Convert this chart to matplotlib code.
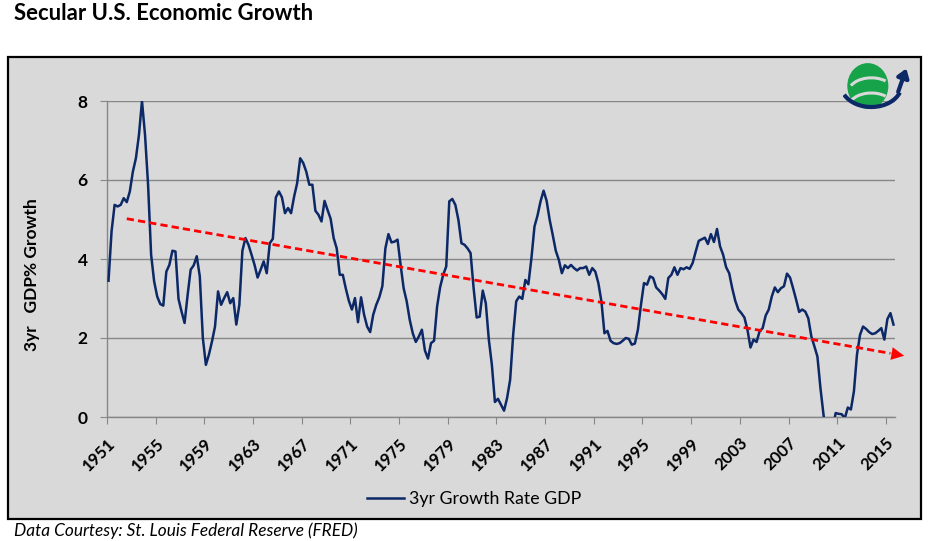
import matplotlib
matplotlib.use('Agg')
import matplotlib.pyplot as plt
from matplotlib.patches import Rectangle, Arc, Ellipse
import numpy as np

plt.rcParams['font.family'] = ['Lato', 'DejaVu Sans']

# 3yr growth rate of GDP, quarterly from 1951Q1
growth = [
    3.45, 4.70, 5.37, 5.33, 5.37, 5.54, 5.44, 5.71, 6.21, 6.55, 7.14, 8.00,
    7.14, 5.88, 4.11, 3.43, 3.05, 2.86, 2.82, 3.68, 3.85, 4.21, 4.19, 2.99,
    2.67, 2.38, 3.09, 3.73, 3.84, 4.07, 3.56, 2.00, 1.32, 1.58, 1.91, 2.29,
    3.18, 2.84, 3.01, 3.16, 2.88, 3.01, 2.34, 2.84, 4.21, 4.53, 4.36, 4.11,
    3.85, 3.53, 3.73, 3.94, 3.64, 4.40, 4.51, 5.56, 5.71, 5.56, 5.16, 5.29,
    5.16, 5.58, 5.92, 6.55, 6.43, 6.21, 5.88, 5.88, 5.22, 5.12, 4.95, 5.47,
    5.24, 5.02, 4.53, 4.27, 3.60, 3.60, 3.25, 2.94, 2.72, 3.01, 2.40, 3.03,
    2.59, 2.29, 2.15, 2.59, 2.84, 3.03, 3.31, 4.27, 4.63, 4.42, 4.44, 4.49,
    3.85, 3.26, 2.93, 2.46, 2.12, 1.90, 2.04, 2.21, 1.68, 1.48, 1.87, 1.93,
    2.80, 3.29, 3.60, 3.81, 5.46, 5.52, 5.37, 4.99, 4.40, 4.36, 4.27, 4.15,
    3.26, 2.52, 2.54, 3.20, 2.88, 1.96, 1.32, 0.38, 0.46, 0.31, 0.16, 0.48,
    0.94, 2.08, 2.93, 3.05, 2.99, 3.47, 3.36, 4.02, 4.82, 5.10, 5.46, 5.73,
    5.47, 4.99, 4.61, 4.21, 3.98, 3.64, 3.84, 3.77, 3.85, 3.77, 3.71, 3.77,
    3.77, 3.81, 3.60, 3.77, 3.68, 3.39, 2.93, 2.12, 2.18, 1.93, 1.87, 1.85,
    1.87, 1.93, 2.00, 1.98, 1.83, 1.86, 2.21, 2.84, 3.39, 3.35, 3.56, 3.52,
    3.28, 3.20, 3.11, 2.99, 3.52, 3.60, 3.79, 3.60, 3.77, 3.74, 3.79, 3.75,
    3.90, 4.19, 4.46, 4.50, 4.54, 4.38, 4.63, 4.43, 4.76, 4.32, 4.11, 3.79,
    3.64, 3.26, 2.94, 2.72, 2.63, 2.52, 2.21, 1.76, 1.96, 1.90, 2.17, 2.25,
    2.57, 2.72, 3.05, 3.28, 3.16, 3.26, 3.31, 3.63, 3.53, 3.26, 2.97, 2.66,
    2.72, 2.67, 2.50, 2.04, 1.79, 1.53, 0.73, 0.06, -0.50, -0.60, -0.30, 0.10,
    0.08, 0.07, -0.03, 0.24, 0.19, 0.65, 1.58, 2.08, 2.29, 2.23, 2.15, 2.10,
    2.12, 2.18, 2.25, 1.96, 2.48, 2.63, 2.34,
]
tick_years = [str(y) for y in range(1951, 2016, 4)]
y_ticks = [0, 2, 4, 6, 8]
# hand-drawn trend arrow (quarters since 1951Q1, growth %)
trend_x = [6.5, 262.0]
trend_y = [5.02, 1.55]

W, H = 936, 541
fig = plt.figure(figsize=(W / 100, H / 100), dpi=100)
fig.patch.set_facecolor('white')

# grey chart area with black frame
fig.patches.append(Rectangle((8 / W, 1 - 519 / H), (921 - 8) / W, (519 - 57) / H,
                             transform=fig.transFigure, facecolor='#d9d9d9',
                             edgecolor='black', lw=1.6, zorder=-10))

grid_c = '#878787'
ax = fig.add_axes([107 / W, 1 - 417 / H, (895 - 107) / W, (417 - 101) / H])
ax.set_facecolor('#d9d9d9')

n = len(growth)
x = np.arange(n) + 0.5
ax.plot(x, growth, color='#0c2866', lw=1.8, label='3yr Growth Rate GDP', zorder=3)

ax.set_xlim(0, n)
ax.set_ylim(0, 8)
ax.set_yticks(y_ticks)
ax.set_yticklabels([str(v) for v in y_ticks], fontsize=12.5, fontweight='bold')
ax.set_xticks(np.arange(len(tick_years)) * 16)
ax.set_xticklabels(tick_years, rotation=45, ha='right', va='top',
                   rotation_mode='anchor', fontsize=12, fontweight='bold')
ax.tick_params(axis='x', direction='out', length=5, color=grid_c, pad=8)
ax.tick_params(axis='y', direction='out', length=5, color=grid_c, pad=9)
ax.yaxis.grid(True, color=grid_c, lw=1.0)
ax.set_axisbelow(True)
for s in ['top', 'right']:
    ax.spines[s].set_visible(False)
for s in ['left', 'bottom']:
    ax.spines[s].set_color(grid_c)
    ax.spines[s].set_linewidth(1.0)

ax.set_ylabel('3yr   GDP% Growth', fontsize=12.5, fontweight='bold')
ax.yaxis.set_label_coords(-0.085, 0.45)

# trend arrow: dashed body + solid head
tx0, tx1 = trend_x
ty0, ty1 = trend_y
slope = (ty1 - ty0) / (tx1 - tx0)
head_start = tx1 - 4.5
ax.plot([tx0, head_start], [ty0, ty0 + slope * (head_start - tx0)], color='#ff0000',
        lw=2.0, linestyle=(0, (2.6, 1.5)), clip_on=False, zorder=4)
ax.annotate('', xy=(tx1, ty1), xytext=(head_start, ty0 + slope * (head_start - tx0)),
            arrowprops=dict(arrowstyle='-|>,head_length=0.9,head_width=0.45',
                            color='#ff0000', lw=0.1, shrinkA=0, shrinkB=0),
            annotation_clip=False, zorder=4)

fig.legend(loc='center', bbox_to_anchor=(474 / W, 1 - 499 / H), frameon=False,
           fontsize=12.8, handlelength=2.1, handletextpad=0.25)

fig.text(14 / W, 1 - 13 / H, 'Secular U.S. Economic Growth', fontsize=15.9,
         fontweight='bold', va='center', ha='left')
fig.text(14 / W, 1 - 531 / H, 'Data Courtesy: St. Louis Federal Reserve (FRED)',
         fontsize=12.4, style='italic', va='center', ha='left')

# small logo top right
lg = fig.add_axes([843 / W, 1 - 114 / H, 66 / W, 56 / H])
lg.set_xlim(-1.3, 1.5)
lg.set_ylim(-1.2, 1.2)
lg.set_aspect('equal')
lg.axis('off')
lg.add_patch(Ellipse((-0.25, 0.0), 1.7, 1.9, color='#17a34a'))
for yy in [-0.35, 0.3]:
    lg.add_patch(Arc((-0.1, yy - 0.6), 2.0, 1.3, theta1=40, theta2=160,
                     color='#d9d9d9', lw=2.2))
lg.add_patch(Arc((-0.1, 0.05), 2.6, 1.9, theta1=200, theta2=345, color='#0c2866', lw=3))
lg.annotate('', xy=(1.4, 0.75), xytext=(1.05, -0.25),
            arrowprops=dict(arrowstyle='-|>,head_length=0.5,head_width=0.35',
                            color='#0c2866', lw=3, shrinkA=0, shrinkB=0))

fig.savefig('out.png', dpi=100, facecolor='white')
